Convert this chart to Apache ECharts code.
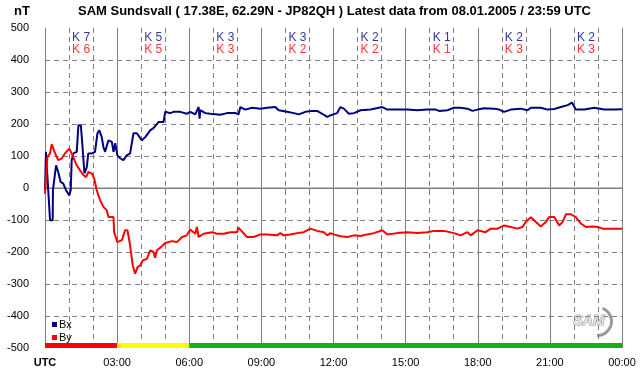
<!DOCTYPE html>
<html>
<head>
<meta charset="utf-8">
<script src="https://cdn.jsdelivr.net/npm/echarts@6/dist/echarts.min.js"></script>
<style>
html,body{margin:0;padding:0;background:#fff;}
#c{width:642px;height:376px;}
</style>
</head>
<body>
<div id="c"></div>
<script>
// ---- data ----
const titleText = 'SAM Sundsvall ( 17.38E, 62.29N - JP82QH ) Latest data from 08.01.2005 / 23:59 UTC';
const unitLabel = 'nT';
const xTickLabels = ['UTC','03:00','06:00','09:00','12:00','15:00','18:00','21:00','00:00'];
const kBlockCenters = [1.5, 4.5, 7.5, 10.5, 13.5, 16.5, 19.5, 22.5];
const kBx = [7, 5, 3, 3, 2, 1, 2, 2];
const kBy = [6, 5, 3, 2, 2, 1, 3, 3];

const bxHours = [0.0,0.04,0.08,0.21,0.32,0.33,0.46,0.55,0.65,0.76,0.875,1.01,1.07,1.11,1.18,1.32,1.39,1.49,1.55,1.64,1.74,1.80,1.95,2.08,2.18,2.26,2.36,2.43,2.5,2.57,2.64,2.78,2.85,2.92,3.01,3.125,3.26,3.40,3.54,3.68,3.82,4.03,4.17,4.375,4.51,4.72,4.79,4.93,5.0,5.21,5.35,5.625,5.90,6.04,6.25,6.39,6.43,6.46,6.67,6.875,7.29,7.57,7.92,8.05,8.125,8.33,8.61,8.96,9.24,9.58,9.72,10.07,10.35,10.56,10.83,11.11,11.32,11.53,11.74,11.875,11.95,12.15,12.29,12.43,12.64,12.85,13.125,13.54,14.03,14.24,14.65,15.07,15.49,15.9,16.25,16.39,16.74,17.01,17.29,17.57,17.78,17.99,18.26,18.68,18.89,19.10,19.375,19.79,20.07,20.21,20.625,20.9,21.18,21.46,21.74,21.92,22.08,22.43,22.85,23.26,23.68,24.0];
const bxValues = [-7,113,113,-101,-101,-7,71,50,19,14,-7,-23,-7,87,108,113,196,196,140,46,66,108,108,113,171,180,159,128,113,118,149,144,113,140,102,93,87,102,108,171,171,149,159,180,187,206,201,206,238,234,238,238,232,238,230,253,217,243,234,232,229,234,234,230,253,245,251,248,251,253,243,238,234,230,238,241,241,232,222,227,232,234,253,248,232,234,243,245,253,245,245,245,243,245,245,241,243,251,251,248,241,245,249,248,245,238,245,248,243,251,251,245,247,253,259,267,245,245,251,245,245,246];

const byHours = [0.0,0.10,0.21,0.28,0.35,0.42,0.55,0.69,0.83,1.01,1.11,1.18,1.32,1.46,1.60,1.71,1.80,1.95,2.05,2.15,2.29,2.43,2.57,2.64,2.85,2.875,3.01,3.2,3.33,3.43,3.54,3.65,3.75,3.85,3.96,4.07,4.24,4.375,4.51,4.58,4.65,4.86,5.0,5.28,5.49,5.70,5.90,6.04,6.25,6.32,6.39,6.60,6.95,7.15,7.43,7.71,7.99,8.05,8.40,8.68,8.96,9.24,9.65,9.79,9.93,10.21,10.49,10.76,11.04,11.32,11.60,11.74,11.875,12.01,12.29,12.57,12.85,13.125,13.40,13.68,14.03,14.24,14.65,15.07,15.49,15.9,16.18,16.6,17.01,17.29,17.57,17.71,17.99,18.33,18.54,18.82,19.10,19.375,19.65,19.86,20.0,20.21,20.42,20.625,20.83,20.97,21.18,21.39,21.53,21.67,21.875,22.08,22.29,22.5,22.78,22.99,23.19,23.54,24.0];
const byValues = [-18,97,108,137,137,108,87,92,108,123,108,102,71,55,40,34,50,45,29,-7,-38,-59,-70,-91,-91,-138,-169,-163,-132,-132,-179,-242,-268,-247,-242,-226,-221,-195,-200,-218,-195,-182,-172,-166,-169,-153,-148,-130,-143,-122,-153,-143,-138,-143,-143,-138,-138,-124,-153,-153,-145,-145,-148,-141,-148,-145,-141,-138,-127,-134,-138,-148,-141,-145,-151,-153,-148,-150,-145,-141,-132,-145,-141,-138,-141,-138,-134,-134,-141,-148,-138,-148,-132,-138,-127,-127,-117,-122,-127,-122,-106,-91,-106,-120,-106,-91,-91,-117,-106,-82,-82,-91,-111,-122,-120,-122,-127,-127,-127];

// zero reference line
const zeroLineHours = [0, 24];
const zeroLineValues = [0, 0];

// status bar segments: [startHour, endHour]
const statusSegments = [[0, 3], [3, 6], [6, 24]];

// ---- build ----
const FONT = '"Liberation Sans", Arial, sans-serif';
const zip = (a, b) => a.map((v, i) => [v, b[i]]);
const chart = echarts.init(document.getElementById('c'), null, {renderer: 'canvas'});

const statusStyles = [
  {color: '#ff0000'},
  {color: '#ffff00', decal: {symbol: 'rect', symbolSize: 1, color: '#ff0000', dashArrayX: [[1, 5]], dashArrayY: [1, 2], rotation: 0}},
  {color: '#12b012', decal: {symbol: 'rect', symbolSize: 1, color: '#00d000', dashArrayX: [[1, 1]], dashArrayY: [1, 1], rotation: 0}}
];

const option = {
  animation: false,
  backgroundColor: '#fff',
  textStyle: {fontFamily: FONT},
  grid: {left: 45, right: 20, top: 28, bottom: 28, containLabel: false},
  graphic: [
    {type: 'text', left: 78, top: 5, style: {text: titleText, font: 'bold 13px ' + FONT, fill: '#000'}},
    {type: 'text', left: 14, top: 5, style: {text: unitLabel, font: 'bold 13px ' + FONT, fill: '#000'}},
    {type: 'group', right: 28, bottom: 38, children: [
      {type: 'arc', shape: {cx: 28, cy: 12, r: 14, startAngle: -1.2, endAngle: 1.6}, style: {stroke: '#9a9a9a', lineWidth: 3, fill: null}},
      {type: 'text', x: 4, y: 5, style: {text: 'SAM', font: 'italic bold 14px ' + FONT, fill: '#e8e8e8', stroke: '#909090', lineWidth: 1}}
    ]}
  ],
  legend: {
    data: ['Bx', 'By'],
    orient: 'vertical',
    left: 47, top: 314,
    itemWidth: 5, itemHeight: 5, itemGap: 2,
    icon: 'rect',
    textStyle: {fontSize: 11, color: '#000', fontFamily: FONT, padding: [0, 0, 0, -3]},
    selectedMode: false
  },
  xAxis: {
    type: 'value', min: 0, max: 24, interval: 3,
    axisLine: {show: true, lineStyle: {color: '#808080'}},
    axisTick: {show: true, length: 5, lineStyle: {color: '#808080'}},
    minorTick: {show: true, splitNumber: 3, length: 5, lineStyle: {color: '#808080'}},
    splitLine: {show: true, lineStyle: {color: '#808080', width: 1}},
    minorSplitLine: {show: true, lineStyle: {color: '#808080', type: [5, 4], width: 1}},
    axisLabel: {margin: 9, fontSize: 11, color: '#000', fontFamily: FONT}
  },
  yAxis: {
    type: 'value', min: -500, max: 500, interval: 100,
    axisLine: {show: false}, axisTick: {show: false},
    splitLine: {show: true, showMaxLine: false, showMinLine: false, lineStyle: {color: '#808080', type: [5, 4], width: 1}},
    axisLabel: {margin: 16, fontSize: 11, color: '#000', fontFamily: FONT}
  },
  series: [
    {
      name: 'zero', type: 'line', data: zip(zeroLineHours, zeroLineValues), z: 1, silent: true,
      showSymbol: false, lineStyle: {color: '#808080', width: 1, type: 'solid'},
      markArea: {silent: true,
        data: statusSegments.map((s, i) => [
          {xAxis: s[0], yAxis: -500, itemStyle: Object.assign({opacity: 1}, statusStyles[i])},
          {xAxis: s[1], yAxis: -484}
        ])}
    },
    {
      name: 'Bx', type: 'line', data: zip(bxHours, bxValues), showSymbol: false, symbol: 'rect',
      lineStyle: {color: '#000080', width: 2}, itemStyle: {color: '#000080'}, z: 3
    },
    {
      name: 'By', type: 'line', data: zip(byHours, byValues), showSymbol: false, symbol: 'rect',
      lineStyle: {color: '#ff0000', width: 2}, itemStyle: {color: '#ff0000'}, z: 4
    },
    {
      name: 'Kx', type: 'scatter', symbolSize: 0, silent: true, z: 5,
      data: kBlockCenters.map((h, i) => [h, 471, kBx[i]]),
      label: {show: true, position: 'inside', fontSize: 12, color: '#000080', fontFamily: FONT,
        formatter: p => 'K ' + p.value[2]}
    },
    {
      name: 'Ky', type: 'scatter', symbolSize: 0, silent: true, z: 5,
      data: kBlockCenters.map((h, i) => [h, 433, kBy[i]]),
      label: {show: true, position: 'inside', fontSize: 12, color: '#ff0000', fontFamily: FONT,
        formatter: p => 'K ' + p.value[2]}
    }
  ]
};
option.xAxis.axisLabel.formatter = function (v) {
  const t = xTickLabels[Math.round(v / 3)];
  return v === 0 ? '{b|' + t + '}' : t;
};
option.xAxis.axisLabel.rich = {b: {fontWeight: 'bold', fontSize: 11, fontFamily: FONT, color: '#000'}};
chart.setOption(option);
</script>
</body>
</html>
